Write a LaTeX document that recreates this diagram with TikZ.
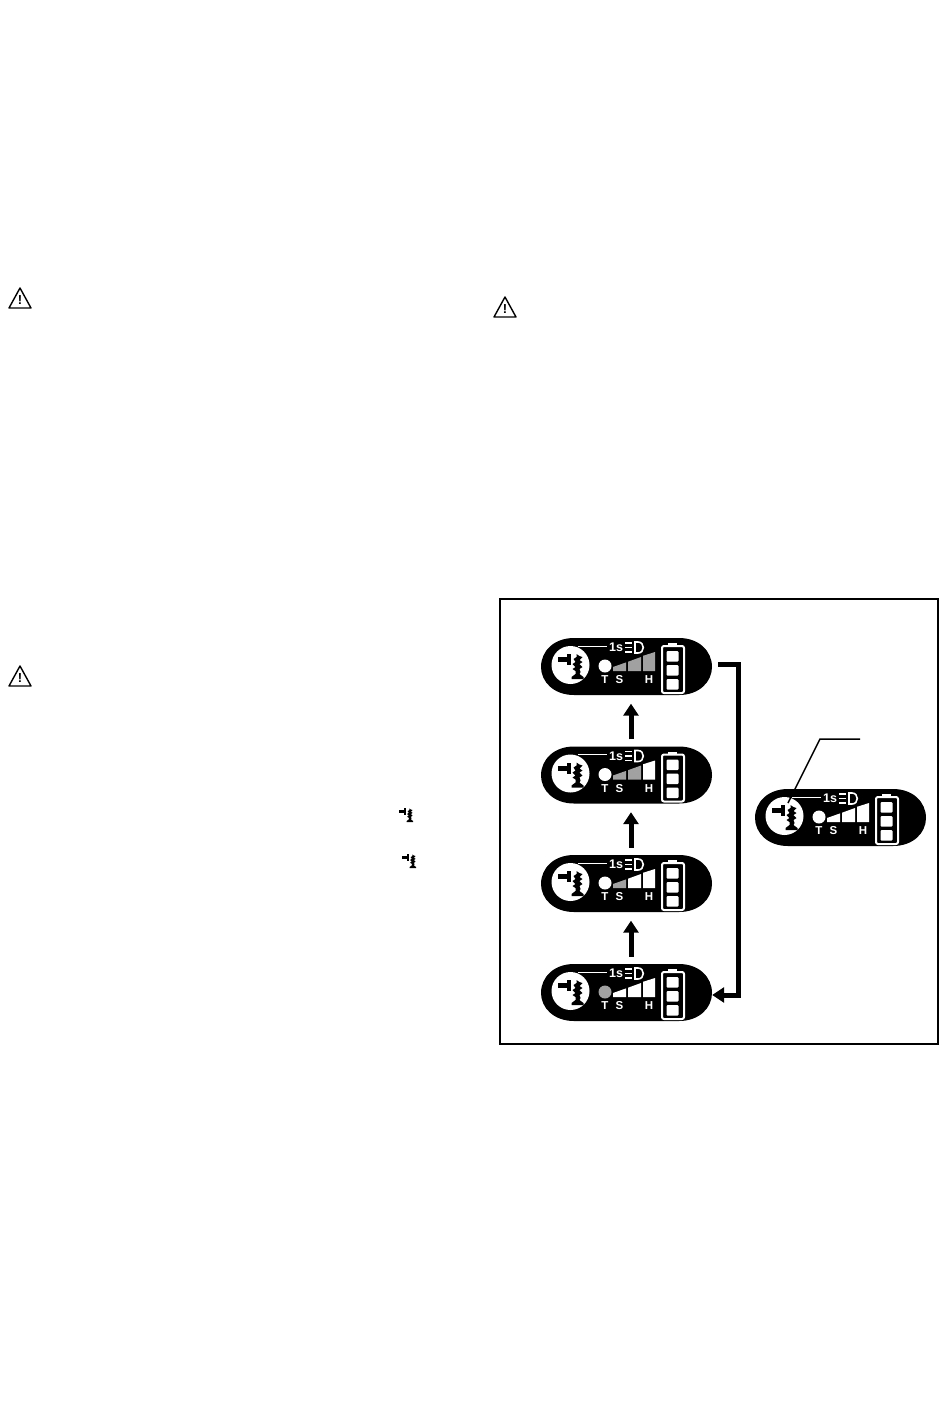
\documentclass[tikz,border=0pt]{standalone}
\usepackage{fontspec}
\setmainfont{Liberation Sans}
\usetikzlibrary{arrows.meta}
\definecolor{barshade}{gray}{0.63}
\tikzset{
		pill/.style={inner sep=0pt, minimum width=171pt, minimum height=57pt},
		capletter/.style={text=white, inner sep=0pt, font=\bfseries\fontsize{11.5}{11.5}\selectfont},
		cell/.style={fill=white, rounded corners=1pt},
		frameline/.style={draw=black, line width=1.8pt},
		steparrow/.style={->, line width=5pt, shorten >=8.5pt, shorten <=7pt},
		returnline/.style={->, line width=5pt},
		leaderline/.style={draw=black, line width=1.5pt},
		pics/drillmark/.style={code={
				\fill (-13,-8) rectangle (-4,-3);
				\fill (-4,-11) rectangle (0,0);
				\fill (6,-11) -- (9,-9) -- (12,-8) -- (9,-5) -- (12,-3) -- (9,-1) -- (12,2) -- (9,4) -- (10,7)
					-- (9,9) -- (13,12) -- (13,14) -- (1,14) -- (1,12) -- (5,9) -- (5,6) -- (2,4) -- (5,2)
					-- (2,-1) -- (5,-3) -- (3,-6) -- (6,-8) -- cycle;
			}},
		pics/warnmark/.style={code={
				\draw[line width=1.4pt, line join=round] (-11,10) -- (0,-10) -- (11,10) -- cycle;
				\node[inner sep=0pt, font=\bfseries\fontsize{13}{13}\selectfont] (-bang) at (0,2.5) {!};
			}},
		pics/panel/.style n args={4}{code={
				\fill (33,0) -- (138,0) .. controls (158,0) and (171,13) .. (171,29) .. controls (171,44) and (158,57) .. (138,57)
					-- (33,57) .. controls (13,57) and (0,44) .. (0,29) .. controls (0,13) and (13,0) .. (33,0) -- cycle;
				\node[pill] (-body) at (85.5,28.5) {};
				\fill[white] (29.5,27) circle (19);
				\pic at (29.5,27) {drillmark};
				\draw[white, line width=1pt] (37,8) -- (66,8);
				\node[inner sep=0pt, text=white, font=\bfseries\fontsize{12.5}{12.5}\selectfont] (-secs) at (75,9.5) {1s};
				\draw[white, line width=1.2pt] (84,5) -- (91,5) (84,9.5) -- (91,9.5) (84,14) -- (91,14);
				\draw[white, line width=1.6pt] (94,4) -- (97,4) .. controls (104,4) and (104,15) .. (97,15) -- (94,15) -- cycle;
				\fill[#4] (64,28) circle (6.5);
				\fill[#1] (72,29) -- (85,24.4) -- (85,33) -- (72,33) -- cycle;
				\fill[#2] (87,23.7) -- (100,19) -- (100,33) -- (87,33) -- cycle;
				\fill[#3] (102,17.8) -- (114,14) -- (114,33) -- (102,33) -- cycle;
				\node[capletter] (-lt) at (64,42) {T};
				\node[capletter] (-ls) at (78.5,42) {S};
				\node[capletter] (-lh) at (108,42) {H};
				\draw[white, line width=2pt, rounded corners=2pt] (121,8) rectangle (143,55);
				\fill[white] (127,5) rectangle (136,8);
				\fill[cell] (125.5,13) rectangle (137.5,23.5);
				\fill[cell] (125.5,27) rectangle (137.5,37.5);
				\fill[cell] (125.5,41) rectangle (137.5,51.5);
			}}
	}
\begin{document}
\begin{tikzpicture}[x=1pt, y=-1pt, >={Triangle[length=12pt,width=15pt]}]
	\useasboundingbox (0,0) rectangle (950,1403);

	\pic (w1) at (20,298) {warnmark};
	\pic (w2) at (505,307) {warnmark};
	\pic (w3) at (20,676) {warnmark};
	\pic[scale=.55] at (406,814.5) {drillmark};
	\pic[scale=.55] at (409,860.5) {drillmark};

	\draw[frameline] (500,599) rectangle (938,1044);

	\pic (p1) at (541,638) {panel={barshade}{barshade}{barshade}{white}};
	\pic (p2) at (541,746.5) {panel={barshade}{barshade}{white}{white}};
	\pic (p3) at (541,855) {panel={barshade}{white}{white}{white}};
	\pic (p4) at (541,964) {panel={white}{white}{white}{barshade}};
	\pic (p5) at (755,789) {panel={white}{white}{white}{white}};

	\draw[steparrow] ([xshift=4.5pt]p4-body.north) -- ([xshift=4.5pt]p3-body.south);
	\draw[steparrow] ([xshift=4.5pt]p3-body.north) -- ([xshift=4.5pt]p2-body.south);
	\draw[steparrow] ([xshift=4.5pt]p2-body.north) -- ([xshift=4.5pt]p1-body.south);
	\draw[returnline] ([xshift=6pt,yshift=2.5pt]p1-body.east) -- (738,664) -- (738,995) -- ([yshift=-2.5pt]p4-body.east);

	\coordinate (tagend) at (860,739);
	\coordinate (tagknee) at (820,739);
	\coordinate (tagtip) at (788,803);
	\draw[leaderline] (tagend) -- (tagknee) -- (tagtip);
\end{tikzpicture}
\end{document}
